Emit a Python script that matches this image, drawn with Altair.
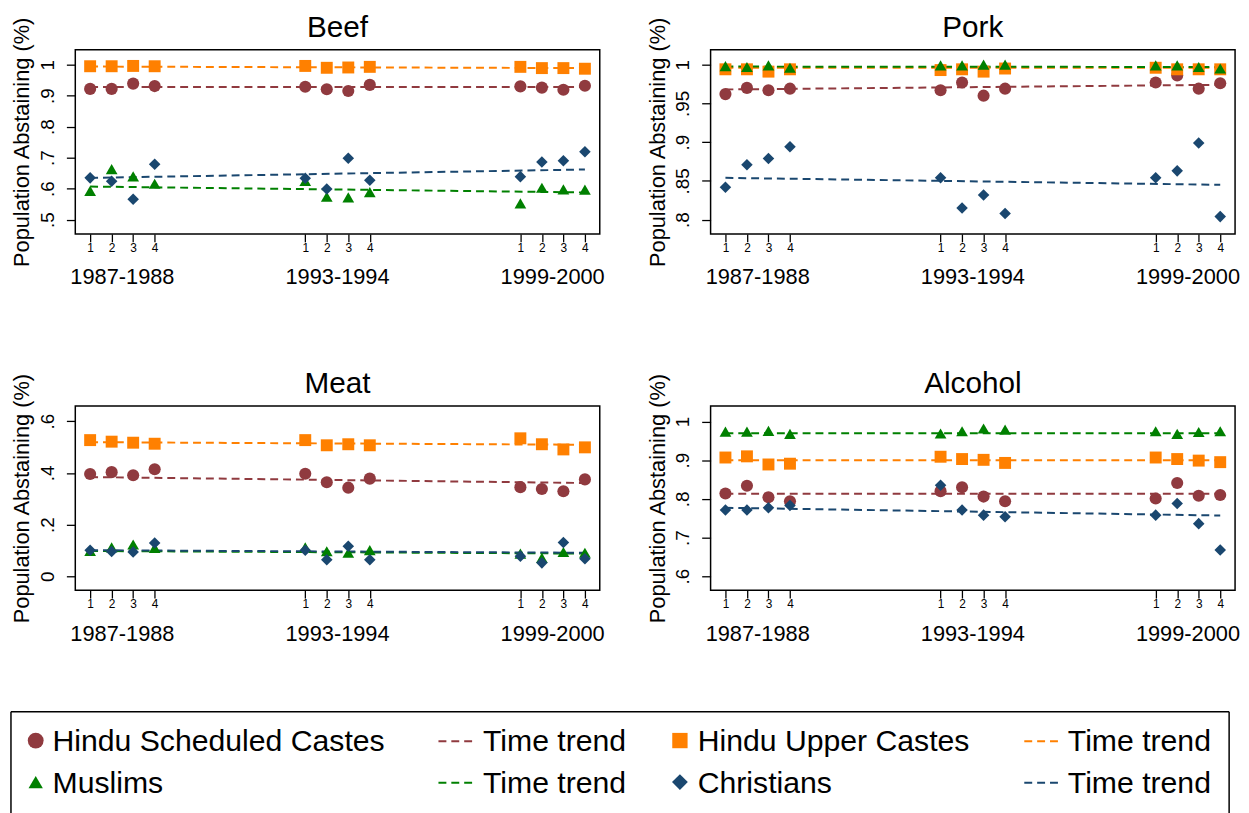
import altair as alt
import pandas as pd

FONT = "Liberation Sans"

# ---------------- data ----------------
groups = ["Hindu Scheduled Castes", "Hindu Upper Castes", "Muslims", "Christians"]
colors = ["#903A3F", "#FF8000", "#008000", "#1A476F"]
shapes = ["circle", "square", "triangle-up", "diamond"]
sizes = [150, 136, 175, 175]

time_index = [1, 2, 3, 4, 11, 12, 13, 14, 21, 22, 23, 24]
period_labels = ["1987-1988", "1993-1994", "1999-2000"]
period_centers = [2.5, 12.5, 22.5]
trend_x = [1, 24]

panels = ["Beef", "Pork", "Meat", "Alcohol"]

beef_sc = [0.922, 0.922, 0.939, 0.931, 0.929, 0.921, 0.915, 0.935, 0.930, 0.926, 0.919, 0.932]
beef_uc = [0.995, 0.995, 0.996, 0.995, 0.996, 0.990, 0.991, 0.993, 0.993, 0.989, 0.989, 0.987]
beef_mu = [0.593, 0.663, 0.640, 0.616, 0.625, 0.574, 0.572, 0.589, 0.553, 0.603, 0.598, 0.597]
beef_ch = [0.635, 0.624, 0.566, 0.679, 0.634, 0.599, 0.698, 0.627, 0.639, 0.686, 0.690, 0.719]

pork_sc = [0.962, 0.970, 0.967, 0.969, 0.967, 0.977, 0.960, 0.969, 0.977, 0.986, 0.969, 0.976]
pork_uc = [0.994, 0.994, 0.991, 0.994, 0.993, 0.994, 0.991, 0.995, 0.996, 0.994, 0.994, 0.994]
pork_mu = [0.998, 0.997, 0.999, 0.996, 0.999, 0.999, 1.000, 1.000, 0.999, 0.999, 0.997, 0.995]
pork_ch = [0.842, 0.871, 0.879, 0.894, 0.854, 0.815, 0.832, 0.808, 0.854, 0.863, 0.899, 0.804]

meat_sc = [0.396, 0.403, 0.391, 0.414, 0.397, 0.364, 0.343, 0.378, 0.345, 0.338, 0.329, 0.375]
meat_uc = [0.527, 0.521, 0.517, 0.513, 0.527, 0.507, 0.511, 0.507, 0.534, 0.511, 0.491, 0.499]
meat_mu = [0.098, 0.112, 0.123, 0.110, 0.112, 0.097, 0.091, 0.101, 0.088, 0.071, 0.094, 0.091]
meat_ch = [0.101, 0.096, 0.094, 0.129, 0.101, 0.064, 0.116, 0.064, 0.078, 0.052, 0.131, 0.068]

alc_sc = [0.814, 0.834, 0.804, 0.794, 0.820, 0.830, 0.806, 0.794, 0.801, 0.841, 0.808, 0.810]
alc_uc = [0.907, 0.910, 0.889, 0.891, 0.909, 0.903, 0.901, 0.893, 0.907, 0.903, 0.899, 0.895]
alc_mu = [0.974, 0.974, 0.976, 0.968, 0.969, 0.975, 0.982, 0.979, 0.975, 0.968, 0.973, 0.975]
alc_ch = [0.771, 0.771, 0.777, 0.783, 0.835, 0.771, 0.758, 0.754, 0.758, 0.788, 0.736, 0.668]

# trend lines: value at first quarter (t=1) and at last quarter (t=24)
beef_trend = [[0.928, 0.928], [0.994, 0.989], [0.607, 0.588], [0.635, 0.662]]
pork_trend = [[0.968, 0.974], [0.996, 0.996], [0.9975, 0.997], [0.854, 0.845]]
meat_trend = [[0.384, 0.361], [0.519, 0.509], [0.098, 0.088], [0.101, 0.091]]
alc_trend = [[0.813, 0.813], [0.900, 0.900], [0.970, 0.970], [0.777, 0.757]]

y_domains = {"Beef": [0.4543, 1.0479], "Pork": [0.7817, 1.0191],
             "Meat": [-0.0536, 0.6587], "Alcohol": [0.564, 1.040]}
y_ticks = {"Beef": [0.5, 0.6, 0.7, 0.8, 0.9, 1], "Pork": [0.8, 0.85, 0.9, 0.95, 1],
           "Meat": [0, 0.2, 0.4, 0.6], "Alcohol": [0.6, 0.7, 0.8, 0.9, 1]}

series = {
    "Beef": [beef_sc, beef_uc, beef_mu, beef_ch],
    "Pork": [pork_sc, pork_uc, pork_mu, pork_ch],
    "Meat": [meat_sc, meat_uc, meat_mu, meat_ch],
    "Alcohol": [alc_sc, alc_uc, alc_mu, alc_ch],
}
trends = {"Beef": beef_trend, "Pork": pork_trend, "Meat": meat_trend, "Alcohol": alc_trend}

rows = []
trows = []
for p in panels:
    for g, vals in zip(groups, series[p]):
        for t, v in zip(time_index, vals):
            rows.append({"panel": p, "group": g, "t": t, "value": v})
    for g, tv in zip(groups, trends[p]):
        for t, v in zip(trend_x, tv):
            trows.append({"panel": p, "group": g, "t": t, "value": v})
points_df = pd.DataFrame(rows)
trend_df = pd.DataFrame(trows)
period_df = pd.DataFrame({"period": period_labels, "center": period_centers})

# ---------------- layout ----------------
PW, PH = 530, 186
COL_GAP, ROW_GAP = 112, 174
one = alt.Data(values=[{"k": 1}])

def make_panel(name):
    xscale = alt.Scale(domain=[0.31, 24.69], nice=False, zero=False)
    xaxis = alt.Axis(values=time_index, labelExpr="'' + (datum.value % 10)", title=None,
                     labelFontSize=12, labelAngle=0, tickSize=8, tickWidth=1.3, tickColor="black",
                     labelPadding=1, domain=False, grid=False, labelColor="black",
                     labelOverlap=False, labelFlush=False, labelFont=FONT)
    yscale = alt.Scale(domain=y_domains[name], nice=False, zero=False)
    yaxis = alt.Axis(values=y_ticks[name], labelExpr="replace(toString(datum.value), '0.', '.')",
                     title="Population Abstaining (%)", titleFontSize=22, titleFontWeight="normal",
                     titleAngle=270, titleAlign="center", titleBaseline="alphabetic",
                     titleX=-47, titleY=PH / 2, titleColor="black", titleFont=FONT,
                     labelAngle=270, labelAlign="center", labelBaseline="alphabetic",
                     labelFontSize=19, labelPadding=13, tickSize=9, tickWidth=1.3,
                     tickColor="black", domain=False, grid=False, labelColor="black",
                     labelFont=FONT, labelOverlap=False, labelFlush=False)
    cscale = alt.Scale(domain=groups, range=colors)

    trend = alt.Chart(trend_df).transform_filter(alt.datum.panel == name).mark_line(
        strokeDash=[8, 5], strokeWidth=2
    ).encode(
        x=alt.X("t:Q", scale=xscale, axis=xaxis),
        y=alt.Y("value:Q", scale=yscale, axis=yaxis),
        color=alt.Color("group:N", scale=cscale, legend=None),
        detail="group:N",
    )
    pts = alt.Chart(points_df).transform_filter(alt.datum.panel == name).mark_point(
        filled=True, opacity=1
    ).encode(
        x=alt.X("t:Q", scale=xscale, axis=xaxis),
        y=alt.Y("value:Q", scale=yscale, axis=yaxis),
        color=alt.Color("group:N", scale=cscale, legend=None),
        shape=alt.Shape("group:N", scale=alt.Scale(domain=groups, range=shapes), legend=None),
        size=alt.Size("group:O", scale=alt.Scale(domain=groups, range=sizes), legend=None),
    )
    periods = alt.Chart(period_df).mark_text(
        fontSize=22, font=FONT, align="center", baseline="middle", color="black"
    ).encode(
        x=alt.X("center:Q", scale=xscale, axis=xaxis),
        y=alt.value(PH + 44),
        text="period:N",
    )
    title = alt.Chart(one).mark_text(
        text=name, fontSize=30, font=FONT, align="center", baseline="alphabetic", color="black"
    ).encode(x=alt.value(PW / 2), y=alt.value(-13))
    return alt.layer(trend, pts, periods, title).properties(width=PW, height=PH)

beef = make_panel("Beef")
pork = make_panel("Pork")
meat = make_panel("Meat")
alcohol = make_panel("Alcohol")

# ---------------- legend ----------------
# the legend cell starts ROW_GAP below the second row; legend box top lies 123px below it
Y0 = 123 - ROW_GAP          # box top (relative to legend cell)
LH = 53                     # legend cell height (box runs to its bottom, past the page edge)
BOX_L, BOX_R = -65, 1166
legend_layers = [
    alt.Chart(one).mark_rule(color="black", strokeWidth=1.5).encode(
        x=alt.value(BOX_L), y=alt.value(Y0), y2=alt.value(LH)),
    alt.Chart(one).mark_rule(color="black", strokeWidth=1.5).encode(
        x=alt.value(BOX_L), x2=alt.value(BOX_R), y=alt.value(Y0)),
    alt.Chart(one).mark_rule(color="black", strokeWidth=1.5).encode(
        x=alt.value(BOX_R), y=alt.value(Y0), y2=alt.value(LH)),
]
marker_cols = [(-40, -23), (611, 629)]            # (marker centre, label start)
line_cols = [(367, 401, 412), (959, 993, 1003)]   # (dash start, dash end, label start)
row_mid = [Y0 + 29, Y0 + 71]
row_base = [Y0 + 39.7, Y0 + 81.7]
legend_sizes = [256, 240, 210, 256]
legend_grid = [[0, 1], [2, 3]]
for r in range(2):
    for c in range(2):
        gi = legend_grid[r][c]
        mx, tx = marker_cols[c]
        legend_layers.append(
            alt.Chart(one).mark_point(filled=True, opacity=1, shape=shapes[gi],
                                      size=legend_sizes[gi], color=colors[gi]).encode(
                x=alt.value(mx), y=alt.value(row_mid[r])))
        legend_layers.append(
            alt.Chart(one).mark_text(text=groups[gi], fontSize=30.5, font=FONT, align="left",
                                     baseline="alphabetic", color="black").encode(
                x=alt.value(tx), y=alt.value(row_base[r])))
        lx0, lx1, ltx = line_cols[c]
        legend_layers.append(
            alt.Chart(one).mark_rule(strokeDash=[8, 5], strokeWidth=2, color=colors[gi]).encode(
                x=alt.value(lx0), x2=alt.value(lx1), y=alt.value(row_mid[r] + 0.7)))
        legend_layers.append(
            alt.Chart(one).mark_text(text="Time trend", fontSize=30.5, font=FONT, align="left",
                                     baseline="alphabetic", color="black").encode(
                x=alt.value(ltx), y=alt.value(row_base[r])))

legend = alt.layer(*legend_layers).properties(
    width=PW, height=LH, view=alt.ViewBackground(strokeOpacity=0)
)

chart = alt.concat(
    beef, pork, meat, alcohol, legend, columns=2,
    spacing={"row": ROW_GAP, "column": COL_GAP}, bounds="flush",
).properties(
    padding={"left": 2, "top": 0, "right": 0, "bottom": 0},
    background="white",
).configure(font=FONT).configure_view(stroke="black", strokeWidth=1.5)

chart.save("out.html", embed_options={"renderer": "svg", "actions": False})
